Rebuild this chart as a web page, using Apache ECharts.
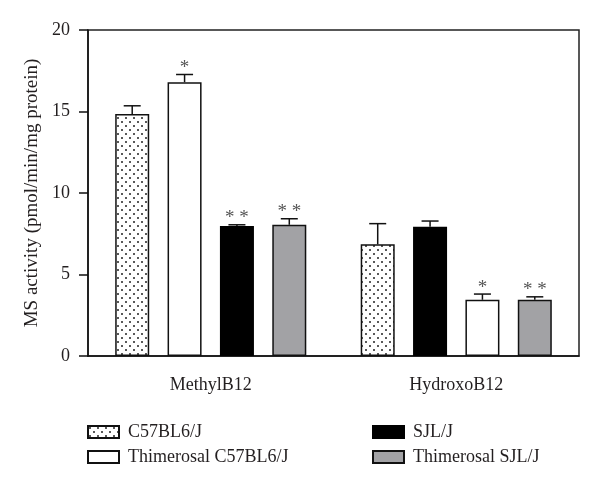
<!DOCTYPE html>
<html>
<head>
<meta charset="utf-8">
<script src="https://cdn.jsdelivr.net/npm/echarts@6/dist/echarts.min.js"></script>
<style>html,body{margin:0;padding:0;background:#fff;}#main{width:600px;height:490px;}</style>
</head>
<body>
<div id="main"></div>
<script>
// ---- data ----
var categories = ['MethylB12', 'HydroxoB12'];
var groups = ['C57BL6/J', 'Thimerosal C57BL6/J', 'SJL/J', 'Thimerosal SJL/J'];
var c57Values = [14.85, 6.85];
var c57Errors = [0.5, 1.27];
var thimC57Values = [16.8, 3.45];
var thimC57Errors = [0.47, 0.35];
var sjlValues = [7.98, 7.93];
var sjlErrors = [0.07, 0.35];
var thimSjlValues = [8.05, 3.45];
var thimSjlErrors = [0.37, 0.18];
var c57Stars = ['', ''];
var thimC57Stars = ['*', '*'];
var sjlStars = ['* *', ''];
var thimSjlStars = ['* *', '* *'];
// bar order (group index) within each category
var barOrder = [[0, 1, 2, 3], [0, 2, 1, 3]];
var yTicks = [0, 5, 10, 15, 20];

// ---- styles ----
var FONT = 'Liberation Serif';
var TXT = '#231f20';
function dotPattern() {
  var c = document.createElement('canvas');
  c.width = 8; c.height = 8;
  var ctx = c.getContext('2d');
  ctx.fillStyle = '#fff';
  ctx.fillRect(0, 0, 8, 8);
  ctx.fillStyle = '#222';
  ctx.beginPath(); ctx.arc(2, 2, 1, 0, Math.PI * 2); ctx.fill();
  ctx.beginPath(); ctx.arc(6, 6, 1, 0, Math.PI * 2); ctx.fill();
  return { image: c, repeat: 'repeat' };
}
var groupStyles = [
  { color: dotPattern(), borderColor: '#111', borderWidth: 1.5 },
  { color: '#ffffff', borderColor: '#111', borderWidth: 1.5 },
  { color: '#000000', borderColor: '#000', borderWidth: 1.5 },
  { color: '#a2a2a5', borderColor: '#111', borderWidth: 1.5 }
];
var groupValues = [c57Values, thimC57Values, sjlValues, thimSjlValues];
var groupErrors = [c57Errors, thimC57Errors, sjlErrors, thimSjlErrors];
var groupStars = [c57Stars, thimC57Stars, sjlStars, thimSjlStars];

var BAR_W = 34, BAR_GAP = 0.54;

var series = [];
for (var p = 0; p < 4; p++) {
  var d = [];
  for (var c = 0; c < categories.length; c++) {
    var g = barOrder[c][p];
    d.push({ value: groupValues[g][c], itemStyle: groupStyles[g] });
  }
  series.push({ type: 'bar', data: d, barWidth: BAR_W, barGap: (BAR_GAP * 100) + '%', silent: true, z: 2 });
}
// error bars + significance marks
var errData = [];
for (var c = 0; c < categories.length; c++) {
  for (var p = 0; p < 4; p++) {
    var g = barOrder[c][p];
    errData.push([c, p, groupValues[g][c], groupErrors[g][c], groupStars[g][c]]);
  }
}
series.push({
  type: 'custom', silent: true, z: 3,
  encode: { x: 0, y: 2 },
  data: errData,
  renderItem: function (params, api) {
    var c = api.value(0), p = api.value(1), v = api.value(2), e = api.value(3);
    var star = errData[params.dataIndex][4];
    var base = api.coord([c, v]);
    var top = api.coord([c, v + e]);
    var x = base[0] + (p - 1.5) * BAR_W * (1 + BAR_GAP);
    var cap = 8.5;
    var st = { stroke: '#111', lineWidth: 1.5 };
    var ch = [
      { type: 'line', shape: { x1: x, y1: base[1], x2: x, y2: top[1] }, style: st },
      { type: 'line', shape: { x1: x - cap, y1: top[1], x2: x + cap, y2: top[1] }, style: st }
    ];
    if (star) {
      ch.push({ type: 'text', style: { text: star, x: x, y: top[1] + 3, align: 'center', verticalAlign: 'bottom', fill: '#555', font: '19px ' + FONT } });
    }
    return { type: 'group', children: ch };
  }
});
// legend entries
for (var g = 0; g < groups.length; g++) {
  series.push({ type: 'bar', name: groups[g], xAxisIndex: 1, yAxisIndex: 1, data: [], itemStyle: groupStyles[g] });
}

var chart = echarts.init(document.getElementById('main'), null, { renderer: 'canvas' });
var legendCommon = {
  orient: 'vertical', itemWidth: 31, itemHeight: 12, itemGap: 7, icon: 'rect',
  selectedMode: false,
  textStyle: { fontFamily: FONT, fontSize: 18, color: TXT, padding: [0, 0, 0, 4] }
};
chart.setOption({
  animation: false,
  backgroundColor: '#fff',
  grid: [
    { left: 88, right: 21, top: 30, bottom: 134, show: true, borderColor: '#222', borderWidth: 1.5 },
    { left: 88, right: 21, top: 30, bottom: 134 }
  ],
  legend: [
    Object.assign({ left: 82, top: 418, data: [groups[0], groups[1]] }, legendCommon),
    Object.assign({ left: 367, top: 418, data: [groups[2], groups[3]] }, legendCommon)
  ],
  xAxis: [
    {
      type: 'category', data: categories, gridIndex: 0,
      axisLine: { lineStyle: { color: '#111', width: 1.5 } },
      axisTick: { alignWithLabel: true, length: 9, lineStyle: { color: '#111', width: 1.5 } },
      axisLabel: { fontFamily: FONT, fontSize: 18, color: TXT, margin: 20 }
    },
    { type: 'category', gridIndex: 1, show: false, data: categories }
  ],
  yAxis: [
    {
      type: 'value', min: 0, max: 20, interval: 5, gridIndex: 0,
      name: 'MS activity (pmol/min/mg protein)', nameLocation: 'middle', nameGap: 46,
      nameTextStyle: { fontFamily: FONT, fontSize: 19, color: TXT },
      axisLine: { show: true, lineStyle: { color: '#111', width: 1.5 } },
      axisTick: { show: true, length: 9, lineStyle: { color: '#111', width: 1.5 } },
      splitLine: { show: false },
      axisLabel: { fontFamily: FONT, fontSize: 18, color: TXT, margin: 18,
        customValues: yTicks }
    },
    { type: 'value', gridIndex: 1, show: false, min: 0, max: 20 }
  ],
  series: series
});
</script>
</body>
</html>
